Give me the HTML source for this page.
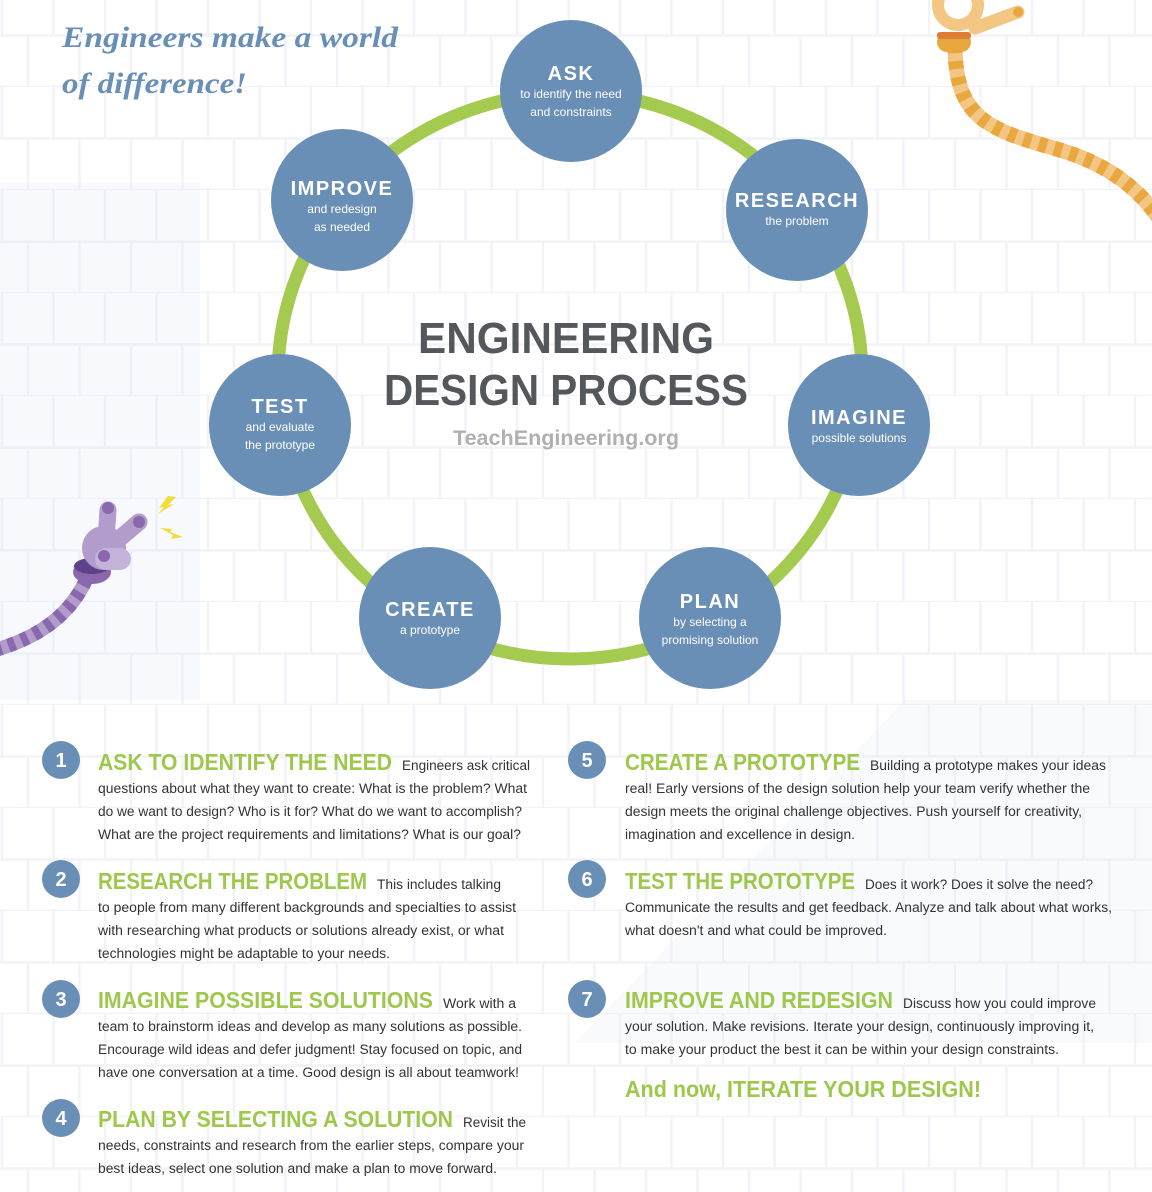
<!DOCTYPE html>
<html><head><meta charset="utf-8"><style>
html,body{margin:0;padding:0;background:#fff}
svg{display:block}
.h{font-family:"Liberation Sans",sans-serif;font-weight:bold;fill:#9dc84c}
.b{font-family:"Liberation Sans",sans-serif;font-size:13.5px;fill:#333}
.nt{font-family:"Liberation Sans",sans-serif;font-weight:bold;fill:#fff;font-size:20px;letter-spacing:1.5px}
.ns{font-family:"Liberation Sans",sans-serif;fill:#fff;font-size:12px}
.num{font-family:"Liberation Sans",sans-serif;font-weight:bold;fill:#fff;font-size:20px}
</style></head><body>
<svg width="1152" height="1192" viewBox="0 0 1152 1192" xmlns="http://www.w3.org/2000/svg">
<defs>
<pattern id="g" x="0" y="-16" width="103" height="103" patternUnits="userSpaceOnUse">
<path d="M0 51.5H103M0 103H103M2 0V51.5M53.5 0V51.5M28 51.5V103M79.5 51.5V103" stroke="#f2f3f8" stroke-width="2.5" fill="none"/>
</pattern>
</defs>
<rect width="1152" height="1192" fill="#fff"/>
<rect width="1152" height="1192" fill="url(#g)"/>
<rect x="0" y="183" width="200" height="517" fill="#e8ecf4" opacity="0.3"/>
<polygon points="575,1043 1152,1043 1152,700 905,700" fill="#e8ecf4" opacity="0.25"/>

<g font-family="Liberation Serif,serif" font-style="italic" font-weight="bold" font-size="30" fill="#6a8fb6">
<text x="62" y="47" textLength="336" lengthAdjust="spacingAndGlyphs">Engineers make a world</text>
<text x="62" y="93" textLength="185" lengthAdjust="spacingAndGlyphs">of difference!</text>
</g>

<path d="M955 45 C955 120 990 130 1060 150 C1110 165 1140 190 1160 220" fill="none" stroke="#f3c684" stroke-width="15"/>
<path d="M955 45 C955 120 990 130 1060 150 C1110 165 1140 190 1160 220" fill="none" stroke="#e9a83f" stroke-width="15" stroke-dasharray="8 8"/>
<rect x="937" y="32" width="34" height="20" rx="10" fill="#e9a83f"/>
<rect x="937" y="32" width="34" height="7" rx="3" fill="#de7f33"/>
<circle cx="958" cy="5" r="26" fill="#f3c684"/>
<circle cx="958" cy="5" r="14" fill="#fff"/>
<path d="M975 28 L1018 12" stroke="#f3c684" stroke-width="13" stroke-linecap="round"/>
<circle cx="1018" cy="12" r="5" fill="#e9a83f"/>

<path d="M-5 650 C30 640 70 620 88 575" fill="none" stroke="#b19ccb" stroke-width="14"/>
<path d="M-5 650 C30 640 70 620 88 575" fill="none" stroke="#8a68ad" stroke-width="14" stroke-dasharray="7 7"/>
<ellipse cx="92" cy="572" rx="19" ry="12" fill="#8a68ad"/>
<ellipse cx="92" cy="566" rx="18" ry="8" fill="#5e418a"/>
<circle cx="104" cy="548" r="22" fill="#b19ccb"/>
<path d="M108 510 L106 540" stroke="#b19ccb" stroke-width="17" stroke-linecap="round"/>
<path d="M139 522 L112 545" stroke="#b19ccb" stroke-width="17" stroke-linecap="round"/>
<circle cx="108" cy="508" r="6" fill="#8a68ad"/>
<circle cx="139" cy="522" r="6" fill="#8a68ad"/>
<rect x="95" y="548" width="36" height="22" rx="11" fill="#c4b3d9"/>
<circle cx="104" cy="556" r="6" fill="#8a68ad"/>
<path d="M168 496 L176 497 L168 505 L174 504 L158 514 L164 507 L159 508 Z" fill="#f2dc3a"/>
<path d="M160 528 L172 529 L170 532 L183 537 L171 539 L173 535 Z" fill="#f2dc3a"/>

<ellipse cx="570" cy="376" rx="292" ry="283" fill="none" stroke="#a4cb4f" stroke-width="13"/>

<g fill="#6a8fb6">
<circle cx="571" cy="91" r="71"/>
<circle cx="797" cy="210" r="71"/>
<circle cx="859" cy="425" r="71"/>
<circle cx="710" cy="618" r="71"/>
<circle cx="430" cy="618" r="71"/>
<circle cx="280" cy="425" r="71"/>
<circle cx="342" cy="200" r="71"/>
</g>
<g text-anchor="middle">
<text class="nt" x="571" y="80">ASK</text>
<text class="ns" x="571" y="98">to identify the need</text>
<text class="ns" x="571" y="116">and constraints</text>
<text class="nt" x="797" y="207">RESEARCH</text>
<text class="ns" x="797" y="225">the problem</text>
<text class="nt" x="859" y="424">IMAGINE</text>
<text class="ns" x="859" y="442">possible solutions</text>
<text class="nt" x="710" y="608">PLAN</text>
<text class="ns" x="710" y="626">by selecting a</text>
<text class="ns" x="710" y="644">promising solution</text>
<text class="nt" x="430" y="616">CREATE</text>
<text class="ns" x="430" y="634">a prototype</text>
<text class="nt" x="280" y="413">TEST</text>
<text class="ns" x="280" y="431">and evaluate</text>
<text class="ns" x="280" y="449">the prototype</text>
<text class="nt" x="342" y="195">IMPROVE</text>
<text class="ns" x="342" y="213">and redesign</text>
<text class="ns" x="342" y="231">as needed</text>
</g>

<g font-family="Liberation Sans,sans-serif" font-weight="bold" fill="#54575b" font-size="44">
<text x="418" y="353" textLength="296" lengthAdjust="spacingAndGlyphs">ENGINEERING</text>
<text x="384" y="405" textLength="364" lengthAdjust="spacingAndGlyphs">DESIGN PROCESS</text>
</g>
<text x="453" y="445" font-family="Liberation Sans,sans-serif" font-weight="bold" font-size="21" fill="#b0b0b0" textLength="226" lengthAdjust="spacingAndGlyphs">TeachEngineering.org</text>

<g fill="#6a8fb6">
<circle cx="61" cy="760" r="19"/><circle cx="61" cy="879" r="19"/><circle cx="61" cy="999" r="19"/><circle cx="61" cy="1118" r="19"/>
<circle cx="587" cy="760" r="19"/><circle cx="587" cy="879" r="19"/><circle cx="587" cy="999" r="19"/>
</g>
<g text-anchor="middle">
<text class="num" x="61" y="767">1</text><text class="num" x="61" y="886">2</text><text class="num" x="61" y="1006">3</text><text class="num" x="61" y="1125">4</text>
<text class="num" x="587" y="767">5</text><text class="num" x="587" y="886">6</text><text class="num" x="587" y="1006">7</text>
</g>

<g font-size="23">
<text class="h" x="98" y="770" textLength="294" lengthAdjust="spacingAndGlyphs">ASK TO IDENTIFY THE NEED</text>
<text class="h" x="98" y="889" textLength="269" lengthAdjust="spacingAndGlyphs">RESEARCH THE PROBLEM</text>
<text class="h" x="98" y="1008" textLength="335" lengthAdjust="spacingAndGlyphs">IMAGINE POSSIBLE SOLUTIONS</text>
<text class="h" x="98" y="1127" textLength="355" lengthAdjust="spacingAndGlyphs">PLAN BY SELECTING A SOLUTION</text>
<text class="h" x="625" y="770" textLength="235" lengthAdjust="spacingAndGlyphs">CREATE A PROTOTYPE</text>
<text class="h" x="625" y="889" textLength="230" lengthAdjust="spacingAndGlyphs">TEST THE PROTOTYPE</text>
<text class="h" x="625" y="1008" textLength="268" lengthAdjust="spacingAndGlyphs">IMPROVE AND REDESIGN</text>
<text class="h" x="625" y="1097" textLength="356" lengthAdjust="spacingAndGlyphs">And now, ITERATE YOUR DESIGN!</text>
</g>

<g>
<text class="b" x="402" y="770" textLength="128" lengthAdjust="spacingAndGlyphs">Engineers ask critical</text>
<text class="b" x="98" y="793" textLength="429" lengthAdjust="spacingAndGlyphs">questions about what they want to create: What is the problem? What</text>
<text class="b" x="98" y="816" textLength="424" lengthAdjust="spacingAndGlyphs">do we want to design? Who is it for? What do we want to accomplish?</text>
<text class="b" x="98" y="839" textLength="423" lengthAdjust="spacingAndGlyphs">What are the project requirements and limitations? What is our goal?</text>

<text class="b" x="377" y="889" textLength="124" lengthAdjust="spacingAndGlyphs">This includes talking</text>
<text class="b" x="98" y="912" textLength="418" lengthAdjust="spacingAndGlyphs">to people from many different backgrounds and specialties to assist</text>
<text class="b" x="98" y="935" textLength="406" lengthAdjust="spacingAndGlyphs">with researching what products or solutions already exist, or what</text>
<text class="b" x="98" y="958" textLength="292" lengthAdjust="spacingAndGlyphs">technologies might be adaptable to your needs.</text>

<text class="b" x="443" y="1008" textLength="73" lengthAdjust="spacingAndGlyphs">Work with a</text>
<text class="b" x="98" y="1031" textLength="424" lengthAdjust="spacingAndGlyphs">team to brainstorm ideas and develop as many solutions as possible.</text>
<text class="b" x="98" y="1054" textLength="424" lengthAdjust="spacingAndGlyphs">Encourage wild ideas and defer judgment! Stay focused on topic, and</text>
<text class="b" x="98" y="1077" textLength="421" lengthAdjust="spacingAndGlyphs">have one conversation at a time. Good design is all about teamwork!</text>

<text class="b" x="463" y="1127" textLength="63" lengthAdjust="spacingAndGlyphs">Revisit the</text>
<text class="b" x="98" y="1150" textLength="426" lengthAdjust="spacingAndGlyphs">needs, constraints and research from the earlier steps, compare your</text>
<text class="b" x="98" y="1173" textLength="399" lengthAdjust="spacingAndGlyphs">best ideas, select one solution and make a plan to move forward.</text>

<text class="b" x="870" y="770" textLength="236" lengthAdjust="spacingAndGlyphs">Building a prototype makes your ideas</text>
<text class="b" x="625" y="793" textLength="465" lengthAdjust="spacingAndGlyphs">real! Early versions of the design solution help your team verify whether the</text>
<text class="b" x="625" y="816" textLength="457" lengthAdjust="spacingAndGlyphs">design meets the original challenge objectives. Push yourself for creativity,</text>
<text class="b" x="625" y="839" textLength="230" lengthAdjust="spacingAndGlyphs">imagination and excellence in design.</text>

<text class="b" x="865" y="889" textLength="228" lengthAdjust="spacingAndGlyphs">Does it work? Does it solve the need?</text>
<text class="b" x="625" y="912" textLength="487" lengthAdjust="spacingAndGlyphs">Communicate the results and get feedback. Analyze and talk about what works,</text>
<text class="b" x="625" y="935" textLength="262" lengthAdjust="spacingAndGlyphs">what doesn't and what could be improved.</text>

<text class="b" x="903" y="1008" textLength="193" lengthAdjust="spacingAndGlyphs">Discuss how you could improve</text>
<text class="b" x="625" y="1031" textLength="469" lengthAdjust="spacingAndGlyphs">your solution. Make revisions. Iterate your design, continuously improving it,</text>
<text class="b" x="625" y="1054" textLength="434" lengthAdjust="spacingAndGlyphs">to make your product the best it can be within your design constraints.</text>
</g>
</svg>
</body></html>
